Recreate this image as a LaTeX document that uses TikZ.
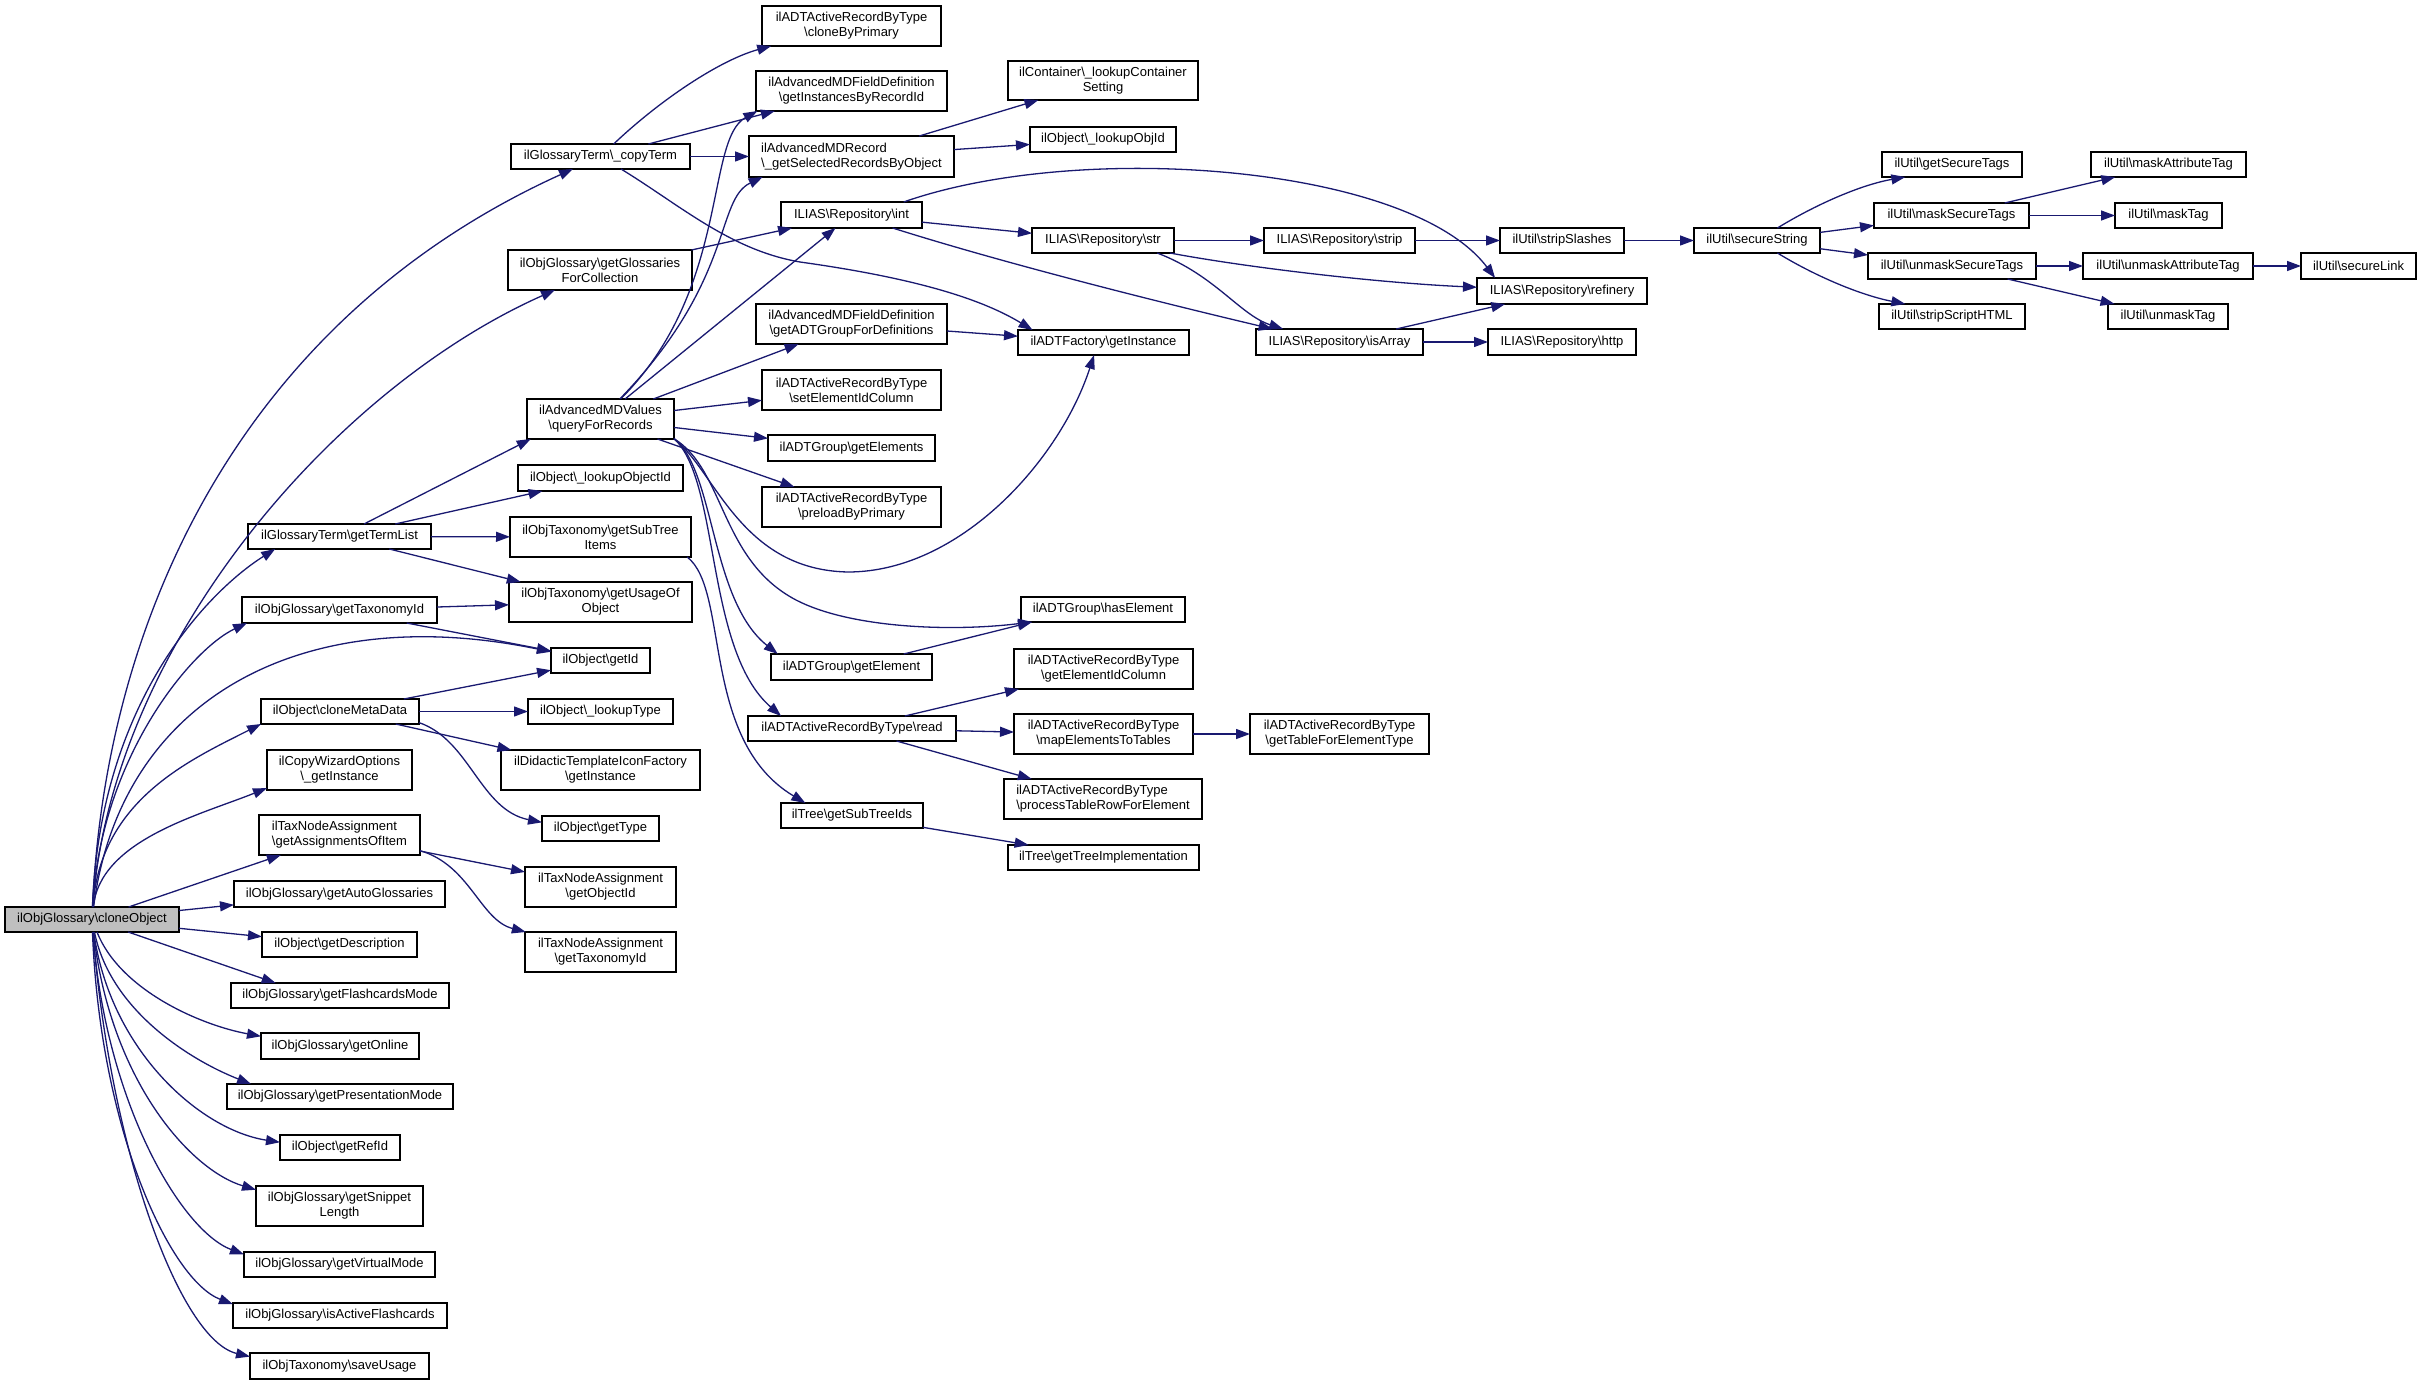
\documentclass[tikz,border=0pt]{standalone}
\usepackage{fontspec}
\setmainfont{Liberation Sans}
\usetikzlibrary{arrows.meta}
\definecolor{edgec}{RGB}{25,25,112}
\definecolor{rootfill}{RGB}{191,191,191}
\newcommand{\bsl}{\textbackslash}
\newcommand{\gbox}[7][]{\node[box,#1,minimum width={(#5-#3)*0.5pt},minimum height={(#6-#4)*0.5pt}] (#2) at ({(#3+#5)/2},{(#4+#6)/2}) {#7};}
\begin{document}
\begin{tikzpicture}[x=0.5pt,y=-0.5pt,
  box/.style={draw=black,fill=white,line width=0.7pt,inner sep=1pt,outer sep=0pt,align=center,font=\fontsize{6.5}{7.5}\selectfont},
  edg/.style={draw=edgec,line width=0.65pt,-{Triangle[length=7pt,width=5pt]}}]
\useasboundingbox (0,0) rectangle (2421,1385);
% column 1-2
\gbox[fill=rootfill]{root}{5}{907}{179}{932}{ilObjGlossary\bsl cloneObject}
\gbox{ct}{511}{144}{690}{169}{ilGlossaryTerm\bsl\_copyTerm}
\gbox{gc}{508}{250}{692}{290}{ilObjGlossary\bsl getGlossaries\\ForCollection}
\gbox{qr}{527}{399}{674}{439}{ilAdvancedMDValues\\\bsl queryForRecords}
\gbox{tl}{248}{524}{431}{549}{ilGlossaryTerm\bsl getTermList}
\gbox{tx}{242}{597}{437}{623}{ilObjGlossary\bsl getTaxonomyId}
\gbox{cm}{261}{699}{419}{724}{ilObject\bsl cloneMetaData}
\gbox{cw}{267}{750}{412}{790}{ilCopyWizardOptions\\\bsl\_getInstance}
\gbox[align=left]{as}{259}{815}{420}{855}{ilTaxNodeAssignment\\\bsl getAssignmentsOfItem}
\gbox{ag}{234}{881}{445}{907}{ilObjGlossary\bsl getAutoGlossaries}
\gbox{ds}{262}{932}{417}{957}{ilObject\bsl getDescription}
\gbox{fl}{231}{983}{449}{1008}{ilObjGlossary\bsl getFlashcardsMode}
\gbox{on}{261}{1033}{419}{1059}{ilObjGlossary\bsl getOnline}
\gbox{pm}{227}{1084}{453}{1109}{ilObjGlossary\bsl getPresentationMode}
\gbox{rf}{280}{1135}{400}{1160}{ilObject\bsl getRefId}
\gbox{sn}{256}{1186}{423}{1226}{ilObjGlossary\bsl getSnippet\\Length}
\gbox{vm}{244}{1252}{435}{1277}{ilObjGlossary\bsl getVirtualMode}
\gbox{ia}{233}{1303}{447}{1328}{ilObjGlossary\bsl isActiveFlashcards}
\gbox{su}{250}{1353}{429}{1379}{ilObjTaxonomy\bsl saveUsage}
% column 3
\gbox{loi}{518}{465}{683}{491}{ilObject\bsl\_lookupObjectId}
\gbox{sti}{510}{517}{691}{557}{ilObjTaxonomy\bsl getSubTree\\Items}
\gbox{uo}{509}{582}{692}{622}{ilObjTaxonomy\bsl getUsageOf\\Object}
\gbox{gid}{551}{648}{650}{673}{ilObject\bsl getId}
\gbox{lt}{528}{699}{673}{724}{ilObject\bsl\_lookupType}
\gbox{dt}{501}{750}{700}{790}{ilDidacticTemplateIconFactory\\\bsl getInstance}
\gbox{gty}{542}{816}{659}{841}{ilObject\bsl getType}
\gbox{tno}{525}{867}{676}{907}{ilTaxNodeAssignment\\\bsl getObjectId}
\gbox{tnt}{525}{932}{676}{972}{ilTaxNodeAssignment\\\bsl getTaxonomyId}
% column 4
\gbox{cbp}{762}{6}{941}{46}{ilADTActiveRecordByType\\\bsl cloneByPrimary}
\gbox{ibr}{756}{71}{947}{111}{ilAdvancedMDFieldDefinition\\\bsl getInstancesByRecordId}
\gbox[align=left]{sr}{749}{136}{954}{177}{ilAdvancedMDRecord\\\bsl\_getSelectedRecordsByObject}
\gbox{ri}{781}{202}{922}{228}{ILIAS\bsl Repository\bsl int}
\gbox{agd}{756}{304}{947}{344}{ilAdvancedMDFieldDefinition\\\bsl getADTGroupForDefinitions}
\gbox{sei}{762}{370}{941}{410}{ilADTActiveRecordByType\\\bsl setElementIdColumn}
\gbox{gel}{768}{435}{935}{461}{ilADTGroup\bsl getElements}
\gbox{pre}{762}{487}{941}{527}{ilADTActiveRecordByType\\\bsl preloadByPrimary}
\gbox{ge}{771}{654}{932}{680}{ilADTGroup\bsl getElement}
\gbox{rd}{748}{716}{956}{741}{ilADTActiveRecordByType\bsl read}
\gbox{sid}{781}{803}{923}{828}{ilTree\bsl getSubTreeIds}
% column 5
\gbox{con}{1008}{61}{1198}{100}{ilContainer\bsl\_lookupContainer\\Setting}
\gbox{loj}{1030}{127}{1176}{152}{ilObject\bsl\_lookupObjId}
\gbox{rs}{1032}{228}{1174}{253}{ILIAS\bsl Repository\bsl str}
\gbox{af}{1018}{330}{1189}{355}{ilADTFactory\bsl getInstance}
\gbox{he}{1021}{597}{1185}{622}{ilADTGroup\bsl hasElement}
\gbox{eic}{1014}{649}{1193}{689}{ilADTActiveRecordByType\\\bsl getElementIdColumn}
\gbox{me}{1014}{714}{1193}{754}{ilADTActiveRecordByType\\\bsl mapElementsToTables}
\gbox[align=left]{pr}{1004}{779}{1202}{819}{ilADTActiveRecordByType\\\bsl processTableRowForElement}
\gbox{ti}{1008}{845}{1199}{870}{ilTree\bsl getTreeImplementation}
% column 6-7
\gbox{rst}{1264}{228}{1415}{253}{ILIAS\bsl Repository\bsl strip}
\gbox{arr}{1256}{329}{1423}{355}{ILIAS\bsl Repository\bsl isArray}
\gbox{tfe}{1250}{714}{1429}{754}{ilADTActiveRecordByType\\\bsl getTableForElementType}
\gbox{ssl}{1500}{228}{1624}{253}{ilUtil\bsl stripSlashes}
\gbox{refi}{1477}{278}{1647}{304}{ILIAS\bsl Repository\bsl refinery}
\gbox{http}{1488}{329}{1636}{355}{ILIAS\bsl Repository\bsl http}
% right part
\gbox{sst}{1694}{228}{1820}{253}{ilUtil\bsl secureString}
\gbox{gst}{1882}{152}{2022}{177}{ilUtil\bsl getSecureTags}
\gbox{mst}{1874}{203}{2029}{228}{ilUtil\bsl maskSecureTags}
\gbox{ust}{1868}{253}{2036}{279}{ilUtil\bsl unmaskSecureTags}
\gbox{ssh}{1879}{304}{2025}{329}{ilUtil\bsl stripScriptHTML}
\gbox{mat}{2091}{152}{2246}{177}{ilUtil\bsl maskAttributeTag}
\gbox{mt}{2115}{203}{2222}{228}{ilUtil\bsl maskTag}
\gbox{uat}{2083}{253}{2253}{279}{ilUtil\bsl unmaskAttributeTag}
\gbox{ut}{2108}{304}{2228}{329}{ilUtil\bsl unmaskTag}
\gbox{sl}{2301}{253}{2416}{279}{ilUtil\bsl secureLink}
% edges from root
\draw[edg] (root) .. controls (105,620) and (240,320) .. (ct);
\draw[edg] (root) .. controls (110,650) and (330,390) .. (gc);
\draw[edg] (root) .. controls (100,700) and (210,590) .. (tl.191);
\draw[edg] (root) .. controls (100,760) and (190,650) .. (tx.188);
\draw[edg] (root) .. controls (120,700) and (300,600) .. (gid.170);
\draw[edg] (root) .. controls (100,800) and (190,760) .. (cm.189);
\draw[edg] (root) .. controls (100,840) and (200,815) .. (cw.194);
\draw[edg] (root) -- (as);
\draw[edg] (root) -- (ag);
\draw[edg] (root) -- (ds);
\draw[edg] (root) -- (fl.169);
\draw[edg] (root) .. controls (120,990) and (200,1025) .. (on.173);
\draw[edg] (root) .. controls (110,1010) and (190,1060) .. (pm.172);
\draw[edg] (root) .. controls (110,1050) and (200,1130) .. (rf.175);
\draw[edg] (root) .. controls (110,1080) and (190,1170) .. (sn.169);
\draw[edg] (root) .. controls (105,1100) and (180,1230) .. (vm.174);
\draw[edg] (root) .. controls (100,1130) and (170,1280) .. (ia.174);
\draw[edg] (root) .. controls (110,1150) and (180,1340) .. (su.174);
% copyTerm
\draw[edg] (ct) .. controls (660,100) and (720,60) .. (cbp.194);
\draw[edg] (ct) -- (ibr);
\draw[edg] (ct) -- (sr);
\draw[edg] (ct) .. controls (680,205) and (730,250) .. (800,262) .. controls (900,276) and (975,295) .. (af.170);
\draw[edg] (gc) -- (ri);
% queryForRecords
\draw[edg] (qr) .. controls (730,290) and (705,140) .. (ibr.192);
\draw[edg] (qr) .. controls (735,280) and (715,200) .. (sr.193);
\draw[edg] (qr) -- (ri);
\draw[edg] (qr) -- (agd);
\draw[edg] (qr) -- (sei);
\draw[edg] (qr) -- (gel);
\draw[edg] (qr) -- (pre);
\draw[edg] (qr.345) .. controls (715,470) and (740,570) .. (848,572) .. controls (960,572) and (1060,460) .. (af.233);
\draw[edg] (qr.345) .. controls (725,470) and (720,560) .. (796,600) .. controls (850,628) and (950,632) .. (he.190);
\draw[edg] (qr.345) .. controls (715,470) and (710,600) .. (ge.170);
\draw[edg] (qr.345) .. controls (720,480) and (705,650) .. (rd.170);
% termList
\draw[edg] (tl) -- (qr.196);
\draw[edg] (tl) -- (loi);
\draw[edg] (tl) -- (sti);
\draw[edg] (tl) -- (uo);
% taxonomy id
\draw[edg] (tx) -- (uo);
\draw[edg] (tx) -- (gid);
% cloneMetaData
\draw[edg] (cm) -- (gid);
\draw[edg] (cm) -- (lt);
\draw[edg] (cm) -- (dt);
\draw[edg] (cm.352) .. controls (470,740) and (480,810) .. (gty.174);
% assignments
\draw[edg] (as) -- (tno);
\draw[edg] (as.349) .. controls (470,865) and (480,920) .. (tnt.165);
% subtree
\draw[edg] (sti.347) .. controls (730,590) and (700,740) .. (sid.165);
% selected records
\draw[edg] (sr) -- (con);
\draw[edg] (sr) -- (loj);
% repository int
\draw[edg] (ri.14) .. controls (1080,140) and (1410,165) .. (refi.169);
\draw[edg] (ri) -- (rs);
\draw[edg] (ri) .. controls (1000,262) and (1150,300) .. (arr.169);
\draw[edg] (agd) -- (af);
% repository str
\draw[edg] (rs) -- (rst);
\draw[edg] (rs) .. controls (1250,268) and (1380,283) .. (refi);
\draw[edg] (rs.347) .. controls (1215,275) and (1240,315) .. (arr.167);
\draw[edg] (rst) -- (ssl);
\draw[edg] (ssl) -- (sst);
\draw[edg] (arr) -- (refi);
\draw[edg] (arr) -- (http);
% ADT
\draw[edg] (ge) -- (he.190);
\draw[edg] (rd) -- (eic);
\draw[edg] (rd) -- (me);
\draw[edg] (rd) -- (pr);
\draw[edg] (me) -- (tfe);
\draw[edg] (sid) -- (ti);
% ilUtil
\draw[edg] (sst) .. controls (1815,205) and (1860,185) .. (gst.195);
\draw[edg] (sst) -- (mst);
\draw[edg] (sst) -- (ust);
\draw[edg] (sst) .. controls (1815,276) and (1860,295) .. (ssh.165);
\draw[edg] (mst) -- (mat);
\draw[edg] (mst) -- (mt);
\draw[edg] (ust) -- (uat);
\draw[edg] (ust) -- (ut);
\draw[edg] (uat) -- (sl);
\end{tikzpicture}
\end{document}
